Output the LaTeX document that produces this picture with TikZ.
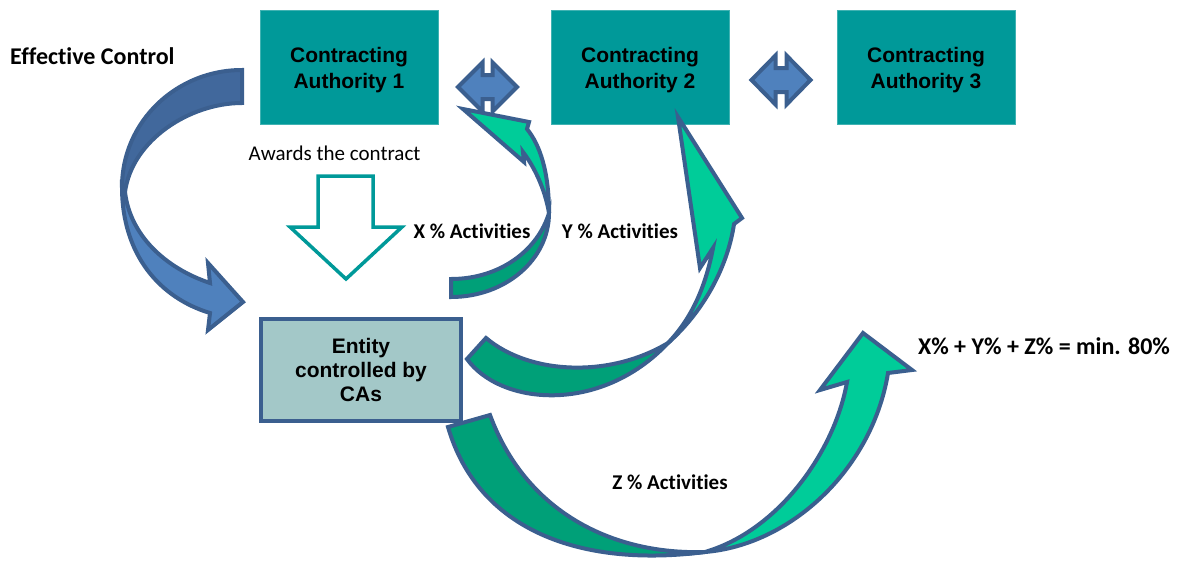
\documentclass[tikz,border=0pt]{standalone}
\usepackage{fontspec}
\setmainfont{Carlito}[Ligatures={NoCommon,NoContextual}]
\newfontfamily\arialfont{Liberation Sans}
\usepackage{tikz}
\usetikzlibrary{calc}
\usetikzlibrary{arrows, positioning, backgrounds, shapes}
\definecolor{CAF}{HTML}{009999}
\definecolor{ENT}{HTML}{A3C8C8}
\definecolor{EDGE}{HTML}{3B5F8F}
\definecolor{BLD}{HTML}{41689C}
\definecolor{BLL}{HTML}{4F81BD}
\definecolor{GRD}{HTML}{00A078}
\definecolor{GRL}{HTML}{00CC99}
\tikzset{
  CA/.style={% Style for the authority boxes
      rectangle, line width=1pt,
      align=center,
      text=black,
      minimum width=178pt,
      minimum height=114pt,
      font=\arialfont\bfseries\fontsize{21}{26}\selectfont,
      fill=CAF,
      draw=CAF!75!white,
  },
  ENT/.style={% Style for the controlled entity
      rectangle,
      line width=4pt,
      align=center,
      minimum width=200pt,
      minimum height=102pt,
      font=\arialfont\bfseries\fontsize{21}{24}\selectfont,
      text=black,
      fill=ENT,
      draw=EDGE,
  },
  LBL/.style={font=\bfseries\fontsize{21}{24}\selectfont},
  BIG/.style={font=\bfseries\fontsize{24}{28}\selectfont},
  BLK/.style={draw=EDGE, line width=4pt, line join=miter}
}
\def\dblarrow(#1,#2)#3{% double block arrow between two authorities
  \begin{scope}[shift={(#1,#2)}]
      \draw[BLK, fill=BLL] (-29.5,0) -- (-#3,-24.5) -- (-#3,-12) -- (#3,-12) -- (#3,-24.5)
        -- (29.5,0) -- (#3,24.5) -- (#3,12) -- (-#3,12) -- (-#3,24.5) -- cycle;
  \end{scope}
}

\begin{document}
\begin{tikzpicture}[x=1pt, y=-1pt]
    \useasboundingbox (0,0) rectangle (1180,560);
    % authorities
    \foreach \n/\x in {1/349, 2/640, 3/926} {
        \node[CA] (CA\n) at (\x,67) {};
        \node[CA, draw=none, fill=none] (CAtext\n) at (\x,70) {Contracting\\Authority \n};
    }
    \node[ENT] (Entity) at (361,370) {Entity\\controlled by\\CAs};
    \dblarrow(487.5,87){5}
    \dblarrow(781,80){5.5}
    % labels
    \node[BIG, anchor=west, inner sep=0pt] (Control) at (10,56) {Effective Control};
    \node[font=\fontsize{21}{24}\selectfont] (Awards) at (334.5,153) {Awards the contract};
    \node[LBL] (XAct) at (472,231) {X \% Activities};
    \node[LBL] (YAct) at (620,231) {Y \% Activities};
    \node[LBL] (ZAct) at (670,482) {Z \% Activities};
    \node[BIG] (Sum) at (1044,346) {X\% + Y\% + Z\% = min. 80\%};
    % hollow arrow: awards
    \draw[draw=CAF, line width=3.5pt, fill=white, line join=miter]
      (318,176) -- (373,176) -- (373,227) -- (402,227) -- (346,279) -- (290,227) -- (318,227) -- cycle;
    % effective control (blue)
    \draw[BLK, fill=BLD] (242,70) .. controls (176,70) and (122,122) .. (122,187)
      -- (125,192) .. controls (132,140) and (190,103) .. (242,103) -- cycle;
    \draw[BLK, fill=BLL] (122,187) .. controls (122,255) and (160,298) .. (210,313)
      -- (208,330) -- (243,302) -- (208,263) -- (210,283)
      .. controls (165,268) and (130,235) .. (125,192) -- cycle;
    % X % back to CA1
    \draw[BLK, fill=GRD] (451,297) .. controls (505,297) and (549,260) .. (549,213)
      .. controls (538,250) and (500,279) .. (451,279) -- cycle;
    \draw[BLK, fill=GRL] (549,213) .. controls (549,172) and (540,145) .. (527,129)
      -- (529,122) -- (463,109) -- (524,162) -- (523,152)
      .. controls (538,172) and (546,195) .. (549,213) -- cycle;
    % Y % to CA2
    \draw[BLK, fill=GRD] (467,359) .. controls (500,405) and (600,415) .. (668,343)
      .. controls (610,378) and (530,375) .. (486,338) -- cycle;
    \draw[BLK, fill=GRL] (668,343) .. controls (705,310) and (728,265) .. (734,224)
      -- (742,218) -- (678,117) -- (700,268) -- (713,248)
      .. controls (705,290) and (690,320) .. (668,343) -- cycle;
    % Z % to the sum
    \draw[BLK, fill=GRD] (448,427) .. controls (478,530) and (580,568) .. (705,552)
      .. controls (610,555) and (525,510) .. (490,415) -- cycle;
    \draw[BLK, fill=GRL] (705,552) .. controls (790,545) and (872,470) .. (888,373)
      -- (912,370) -- (863,333) -- (820,390) -- (847,382)
      .. controls (835,450) and (780,530) .. (705,552) -- cycle;
\end{tikzpicture}
\end{document}
